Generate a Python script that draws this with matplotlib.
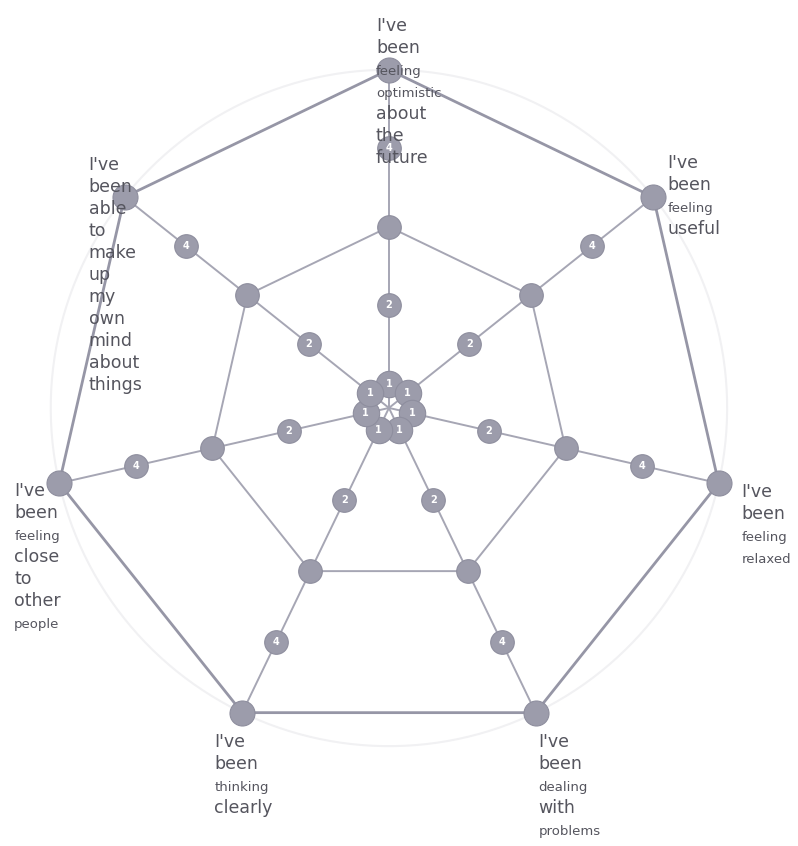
import numpy as np
import matplotlib.pyplot as plt

# statements around the chart, clockwise from the top (one word per line)
items = [
    ["I've", "been", "feeling", "optimistic", "about", "the", "future"],
    ["I've", "been", "feeling", "useful"],
    ["I've", "been", "feeling", "relaxed"],
    ["I've", "been", "dealing", "with", "problems"],
    ["I've", "been", "thinking", "clearly"],
    ["I've", "been", "feeling", "close", "to", "other", "people"],
    ["I've", "been", "able", "to", "make", "up", "my", "own", "mind", "about", "things"],
]
# words printed in a smaller type in the original
small_words = [
    {"feeling", "optimistic"},
    {"feeling"},
    {"feeling", "relaxed"},
    {"dealing", "problems"},
    {"thinking"},
    {"feeling", "people"},
    set(),
]
levels = [1, 2, 3, 4, 5]
level_text = ["1", "2", "", "4", ""]
ring_levels = [3, 5]

# offsets (pixels) of the first baseline's left end from the outer marker
label_dx = [-13, 14, 23, 3, -28, -45, -36]
label_dy = [39, 29, -14, -34, -34, -13, 27]

grey_line = "#a6a6b4"
grey_dot = "#9c9cab"
rmin = 0.694

n = len(items)
angles = np.arange(n) * 2 * np.pi / n

fig = plt.figure(figsize=(7.98, 8.46), dpi=100)
ax = fig.add_axes([0.0439, 0.0993, 0.887, 0.837], projection="polar")
ax.set_theta_zero_location("N")
ax.set_theta_direction(-1)
ax.set_ylim(rmin, 5.2)
ax.set_xticks([])
ax.set_yticks([])
ax.grid(False)
ax.spines["polar"].set_visible(False)

# faint background circle
circ = np.linspace(0, 2 * np.pi, 200)
ax.plot(circ, np.full_like(circ, 5.0), color="#f1f1f3", lw=1.5, zorder=0)

# spokes
for a in angles:
    ax.plot([a, a], [rmin, 5], color=grey_line, lw=1.4, zorder=1)

# polygons
for lv in ring_levels:
    th = np.append(angles, angles[0])
    rr = np.full(len(th), lv)
    ax.plot(th, rr, color="#9696a6" if lv == 5 else grey_line,
            lw=2.0 if lv == 5 else 1.4, zorder=1)

# markers with numbers
for lv, txt in zip(levels, level_text):
    size = {1: 19, 5: 18}.get(lv, 17)
    ax.plot(angles, np.full(n, lv), "o", ms=size, color=grey_dot,
            mec="#8e8e9e", mew=0.8, zorder=3, clip_on=False)
    if txt:
        for a in angles:
            ax.text(a, lv, txt, ha="center", va="center", color="white",
                    fontsize=7, fontweight="bold", zorder=4)

# statement labels, drawn line by line
line_h = 22
for a, words, small, dx, dy in zip(angles, items, small_words, label_dx, label_dy):
    for i, w in enumerate(words):
        fs = 9.5 if w in small else 12.5
        ax.annotate(w, xy=(a, 5), xytext=(dx, dy - i * line_h),
                    textcoords="offset pixels", ha="left", va="baseline",
                    fontsize=fs, color="#55555e", zorder=5,
                    annotation_clip=False)

fig.savefig("out.png", dpi=100)
